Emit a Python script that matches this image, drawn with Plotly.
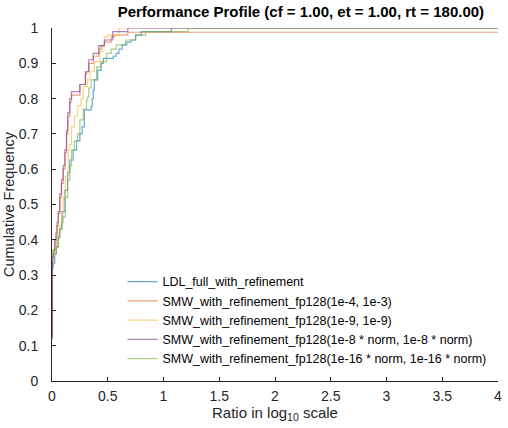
import plotly.graph_objects as go

names = [
    "LDL_full_with_refinement",
    "SMW_with_refinement_fp128(1e-4, 1e-3)",
    "SMW_with_refinement_fp128(1e-9, 1e-9)",
    "SMW_with_refinement_fp128(1e-8 * norm, 1e-8 * norm)",
    "SMW_with_refinement_fp128(1e-16 * norm, 1e-16 * norm)",
]
colors = ["rgba(0,114,189,0.6)", "rgba(217,83,25,0.55)", "rgba(237,177,32,0.55)",
          "rgba(126,47,142,0.6)", "rgba(119,172,48,0.6)"]

ldl_x = [0, 0.01, 0.025, 0.04, 0.055, 0.07, 0.09, 0.116, 0.14, 0.16, 0.19, 0.22, 0.25, 0.27, 0.29, 0.35,
         0.36, 0.37, 0.38, 0.41, 0.44, 0.46, 0.55, 0.575, 0.60, 0.63, 0.67, 0.71, 0.75, 0.80, 1.07, 4]
ldl_y = [0.32, 0.334, 0.36, 0.38, 0.405, 0.43, 0.48, 0.54, 0.59, 0.626, 0.654, 0.68, 0.70, 0.72, 0.768, 0.777,
         0.80, 0.824, 0.853, 0.88, 0.90, 0.914, 0.92, 0.928, 0.94, 0.952, 0.96, 0.966, 0.98, 0.99, 1.0, 1.0]

smw1_x = [0, 0.004, 0.012, 0.025, 0.036, 0.045, 0.056, 0.07, 0.085, 0.1, 0.116, 0.13, 0.142, 0.16, 0.175,
          0.25, 0.30, 0.31, 0.33, 0.37, 0.42, 0.44, 0.47, 0.53, 0.56, 0.68, 4]
smw1_y = [0.13, 0.34, 0.36, 0.39, 0.41, 0.44, 0.475, 0.52, 0.56, 0.60, 0.646, 0.70, 0.75, 0.79, 0.81,
          0.84, 0.87, 0.876, 0.90, 0.92, 0.94, 0.95, 0.96, 0.975, 0.98, 0.988, 0.988]

smw2_x = [0, 0.01, 0.025, 0.04, 0.055, 0.07, 0.086, 0.1, 0.12, 0.145, 0.16, 0.175, 0.2, 0.23, 0.26, 0.28,
          0.32, 0.34, 0.38, 0.43, 0.45, 0.47, 0.5, 0.6, 4]
smw2_y = [0.35, 0.36, 0.37, 0.39, 0.42, 0.44, 0.465, 0.52, 0.58, 0.654, 0.67, 0.72, 0.75, 0.78, 0.80, 0.834,
          0.853, 0.876, 0.905, 0.933, 0.95, 0.975, 0.98, 1.0, 1.0]

smw3_x = [0, 0.004, 0.012, 0.025, 0.036, 0.045, 0.056, 0.07, 0.085, 0.1, 0.116, 0.13, 0.142, 0.16, 0.175,
          0.25, 0.30, 0.33, 0.37, 0.42, 0.47, 0.545, 0.68, 4]
smw3_y = [0.12, 0.35, 0.37, 0.40, 0.42, 0.45, 0.48, 0.53, 0.57, 0.61, 0.655, 0.71, 0.76, 0.80, 0.82,
          0.84, 0.876, 0.91, 0.928, 0.95, 0.966, 0.99, 1.0, 1.0]

smw4_x = [0, 0.01, 0.025, 0.04, 0.055, 0.07, 0.085, 0.1, 0.12, 0.14, 0.16, 0.175, 0.2, 0.23, 0.25, 0.28,
          0.31, 0.32, 0.33, 0.35, 0.4, 0.44, 0.49, 0.53, 0.575, 0.66, 0.75, 0.84, 1.22, 4]
smw4_y = [0.36, 0.37, 0.375, 0.38, 0.41, 0.43, 0.45, 0.465, 0.52, 0.57, 0.61, 0.654, 0.68, 0.70, 0.74, 0.77,
          0.796, 0.805, 0.83, 0.853, 0.89, 0.905, 0.928, 0.94, 0.952, 0.966, 0.98, 0.99, 1.0, 1.0]

series = [(ldl_x, ldl_y), (smw1_x, smw1_y), (smw2_x, smw2_y), (smw3_x, smw3_y), (smw4_x, smw4_y)]

x_ticks = [0, 0.5, 1, 1.5, 2, 2.5, 3, 3.5, 4]
x_tick_labels = ["0", "0.5", "1", "1.5", "2", "2.5", "3", "3.5", "4"]
y_ticks = [0, 0.1, 0.2, 0.3, 0.4, 0.5, 0.6, 0.7, 0.8, 0.9, 1]
y_tick_labels = ["0", "0.1", "0.2", "0.3", "0.4", "0.5", "0.6", "0.7", "0.8", "0.9", "1"]

fig = go.Figure()
for (xs, ys), name, c in zip(series, names, colors):
    fig.add_trace(go.Scatter(x=xs, y=ys, mode="lines", name=name,
                             line=dict(color=c, width=1.2, shape="hv")))

font = "Liberation Sans, Arial, sans-serif"
fig.update_layout(
    width=508, height=428,
    margin=dict(l=52, r=6, t=28, b=47),
    paper_bgcolor="white", plot_bgcolor="white",
    font=dict(family=font, size=14, color="#262626"),
    title=dict(text="<b>Performance Profile (cf = 1.00, et = 1.00, rt = 180.00)</b>",
               x=0.558, xref="paper", xanchor="center", y=0.972, yanchor="middle",
               font=dict(size=15, color="black")),
    showlegend=True,
    legend=dict(x=0.158, y=0.02, xanchor="left", yanchor="bottom",
                bgcolor="rgba(0,0,0,0)", font=dict(size=12.5, color="black"),
                tracegroupgap=0, itemwidth=30),
    xaxis=dict(range=[0, 4], tickvals=x_ticks, ticktext=x_tick_labels,
               showgrid=False, zeroline=False, showline=True, linecolor="#262626", linewidth=1,
               ticks="inside", ticklen=4, tickcolor="#262626", ticklabelstandoff=2,
               title=dict(text="Ratio in log<sub>10</sub> scale", standoff=4, font=dict(size=15))),
    yaxis=dict(range=[0, 1], tickvals=y_ticks, ticktext=y_tick_labels,
               showgrid=False, zeroline=False, showline=True, linecolor="#262626", linewidth=1,
               ticks="inside", ticklen=4, tickcolor="#262626", ticklabelstandoff=10,
               title=dict(text="Cumulative Frequency", standoff=0, font=dict(size=14.5))),
)

fig.write_html("out.html")
